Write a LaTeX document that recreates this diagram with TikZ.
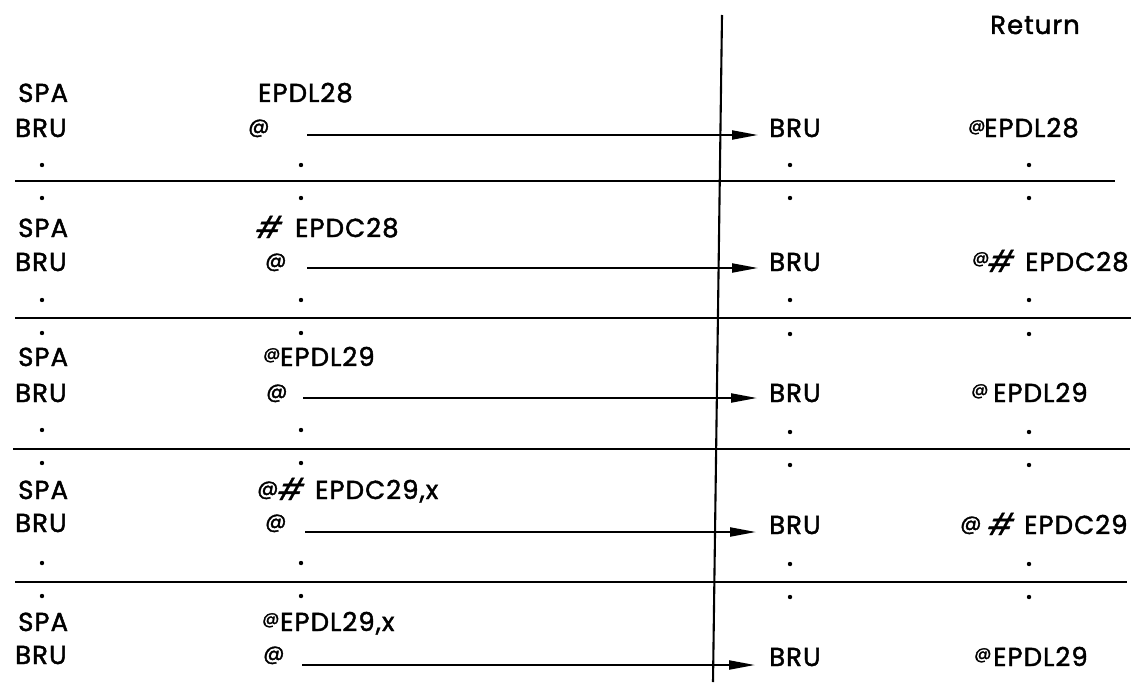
\documentclass[tikz,border=0pt]{standalone}
\usepackage{fontspec}
\setmainfont{Poppins}[LetterSpace=4,FakeBold=1.6]
\newfontfamily\hashfont{Poppins}[FakeSlant=0.35,FakeBold=1.2]
\newfontfamily\atfont{Poppins}[FakeBold=1.6]
\usetikzlibrary{arrows.meta}
\tikzset{
  txt/.style={anchor=base west, inner sep=0pt, font=\fontsize{26}{28}\selectfont},
  atbig/.style={anchor=base west, inner sep=0pt, font=\fontsize{21}{22}\atfont},
  atsup/.style={anchor=base west, inner sep=0pt, font=\fontsize{17}{18}\atfont},
  hash/.style={anchor=base west, inner sep=0pt, font=\fontsize{30}{32}\hashfont},
  rule/.style={line width=2.1pt},
  arr/.style={line width=2.1pt, -{Triangle[length=26pt,width=9pt]}},
  dotmark/.style={fill=black}
}
\begin{document}
\begin{tikzpicture}[x=1pt,y=-1pt]
\useasboundingbox (0,0) rectangle (1131,682);
% frame lines
\draw[rule] (722,15) -- (713,682);
\draw[rule] (15,181) -- (1115,181);
\draw[rule] (15,318) -- (1131,318);
\draw[rule] (13,449) -- (1130,449);
\draw[rule] (15,582) -- (1127,582);
% header
\node[txt] (ret) at (990,34) {Return};
% block 1
\node[txt] (ls1) at (18,102) {SPA};
\node[txt] (lo1) at (258,102) {EPDL28};
\node[txt] (lb1) at (15,137) {BRU};
\node[atbig] (la1) at (248,133) {@};
\node[txt] (rb1) at (769,137) {BRU};
\node[atsup] (ra1) at (968,131) {@};
\node[txt] (ro1) at (984,137) {EPDL28};
% block 2
\node[txt] (ls2) at (18,237) {SPA};
\node[hash] (lh2) at (253,238) {\#};
\node[txt] (lo2) at (295,237) {EPDC28};
\node[txt] (lb2) at (15,271) {BRU};
\node[atbig] (la2) at (265,267) {@};
\node[txt] (rb2) at (769,271) {BRU};
\node[atsup] (ra2) at (972,263) {@};
\node[hash] (rh2) at (985,272) {\#};
\node[txt] (ro2) at (1025,271) {EPDC28};
% block 3
\node[txt] (ls3) at (18,366) {SPA};
\node[atsup] (la3s) at (263,359) {@};
\node[txt] (lo3) at (280,366) {EPDL29};
\node[txt] (lb3) at (15,402) {BRU};
\node[atbig] (la3) at (266,398) {@};
\node[txt] (rb3) at (769,402) {BRU};
\node[atsup] (ra3) at (971,395) {@};
\node[txt] (ro3) at (993,402) {EPDL29};
% block 4
\node[txt] (ls4) at (18,499) {SPA};
\node[atbig] (la4s) at (257,495) {@};
\node[hash] (lh4) at (275,500) {\#};
\node[txt] (lo4) at (315,499) {EPDC29,x};
\node[txt] (lb4) at (15,532) {BRU};
\node[atbig] (la4) at (265,528) {@};
\node[txt] (rb4) at (769,534) {BRU};
\node[atbig] (ra4) at (960,530) {@};
\node[hash] (rh4) at (985,535) {\#};
\node[txt] (ro4) at (1024,534) {EPDC29};
% block 5
\node[txt] (ls5) at (18,631) {SPA};
\node[atsup] (la5s) at (262,624) {@};
\node[txt] (lo5) at (280,631) {EPDL29,x};
\node[txt] (lb5) at (15,664) {BRU};
\node[atbig] (la5) at (263,660) {@};
\node[txt] (rb5) at (769,666) {BRU};
\node[atsup] (ra5) at (974,659) {@};
\node[txt] (ro5) at (993,666) {EPDL29};
% arrows
\coordinate (s1) at (307,135); \coordinate (e1) at (758,135);
\coordinate (s2) at (307,268); \coordinate (e2) at (758,268);
\coordinate (s3) at (303,398); \coordinate (e3) at (757,398);
\coordinate (s4) at (305,532); \coordinate (e4) at (756,532);
\coordinate (s5) at (302,665); \coordinate (e5) at (755,665);
\foreach \i in {1,...,5} {\draw[arr] (s\i) -- (e\i);}
% dots
\foreach \y in {165,198,300,333,430,463,563,596} {
  \fill[dotmark] (42,\y) circle (2.2);
  \fill[dotmark] (301,\y) circle (2.2);
}
\foreach \y in {165,198,300,334,432,465,564,597} {
  \fill[dotmark] (790,\y) circle (2.2);
  \fill[dotmark] (1029,\y) circle (2.2);
}
\end{tikzpicture}
\end{document}
